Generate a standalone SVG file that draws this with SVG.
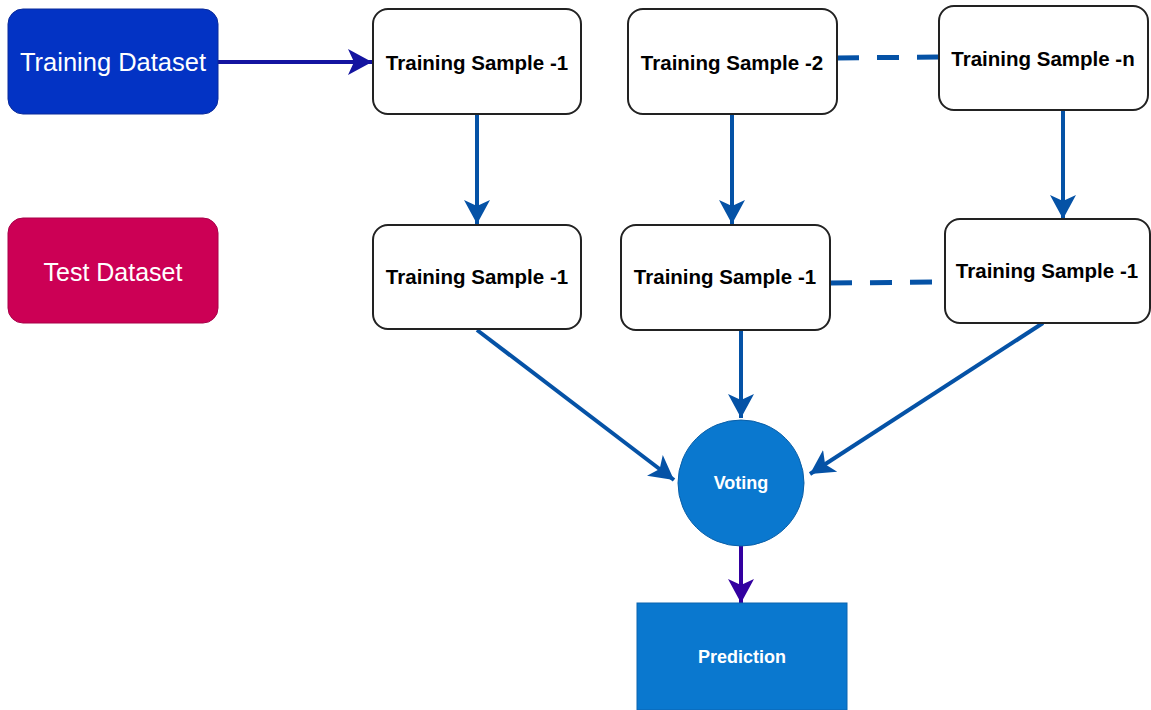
<svg xmlns="http://www.w3.org/2000/svg" width="1151" height="710" viewBox="0 0 1151 710">
<style>
.bg{fill:#ffffff}
.sample{fill:#ffffff;stroke:#222222;stroke-width:2}
.lbl{font-family:"Liberation Sans",Arial,sans-serif;font-weight:bold;font-size:20.5px;fill:#000000;text-anchor:middle}
.big{font-family:"Liberation Sans",Arial,sans-serif;font-size:25.5px;fill:#ffffff;text-anchor:middle}
.wl{font-family:"Liberation Sans",Arial,sans-serif;font-weight:bold;font-size:18px;fill:#ffffff;text-anchor:middle}
.conn{fill:none;stroke:#0552A6;stroke-width:4}
.dash{fill:none;stroke:#0552A6;stroke-width:5;stroke-dasharray:22 18}
</style>
<defs>
<marker id="ah" markerUnits="userSpaceOnUse" markerWidth="26" markerHeight="28" viewBox="0 0 26 28" refX="24" refY="14" orient="auto">
<path d="M0,1 L24,14 L0,27 L6,14 Z" fill="#0552A6"/>
</marker>
<marker id="ahNavy" markerUnits="userSpaceOnUse" markerWidth="26" markerHeight="28" viewBox="0 0 26 28" refX="24" refY="14" orient="auto">
<path d="M0,1 L24,14 L0,27 L6,14 Z" fill="#1414A0"/>
</marker>
<marker id="ahPurple" markerUnits="userSpaceOnUse" markerWidth="26" markerHeight="28" viewBox="0 0 26 28" refX="24" refY="14" orient="auto">
<path d="M0,1 L24,14 L0,27 L6,14 Z" fill="#3300A0"/>
</marker>
</defs>
<rect class="bg" x="0" y="0" width="1151" height="710"/>
<g id="connectors">
<path d="M218,62 L372,62" fill="none" stroke="#1414A0" stroke-width="4" marker-end="url(#ahNavy)"/>
<path class="dash" d="M837,58 L939,57"/>
<path class="dash" d="M830,283 L945,282"/>
<path class="conn" d="M477,114 L477,224" marker-end="url(#ah)"/>
<path class="conn" d="M732,114 L732,224" marker-end="url(#ah)"/>
<path class="conn" d="M1063,110 L1063,219" marker-end="url(#ah)"/>
<path class="conn" d="M477,330 L674,480" marker-end="url(#ah)"/>
<path class="conn" d="M741,330 L741,418" marker-end="url(#ah)"/>
<path class="conn" d="M1043,323 L810,474" marker-end="url(#ah)"/>
<path d="M741,546 L741,603" fill="none" stroke="#3300A0" stroke-width="4" marker-end="url(#ahPurple)"/>
</g>
<g id="training-dataset">
<rect x="8" y="9" width="210" height="105" rx="15" fill="#0333C4" stroke="#0A2A9A" stroke-width="1"/>
<text class="big" x="113" y="71">Training Dataset</text>
</g>
<g id="test-dataset">
<rect x="8" y="218" width="210" height="105" rx="15" fill="#CC0055" stroke="#A80048" stroke-width="1"/>
<text class="big" x="113" y="281" style="font-size:25px">Test Dataset</text>
</g>
<g id="ts1-top">
<rect class="sample" x="373" y="9" width="208" height="105" rx="15"/>
<text class="lbl" x="477" y="70">Training Sample -1</text>
</g>
<g id="ts2-top">
<rect class="sample" x="628" y="9" width="209" height="105" rx="15"/>
<text class="lbl" x="732" y="70">Training Sample -2</text>
</g>
<g id="tsn-top">
<rect class="sample" x="939" y="6" width="209" height="104" rx="15"/>
<text class="lbl" x="1043" y="66">Training Sample -n</text>
</g>
<g id="ts1-row2-left">
<rect class="sample" x="373" y="225" width="208" height="104" rx="15"/>
<text class="lbl" x="477" y="284">Training Sample -1</text>
</g>
<g id="ts1-row2-mid">
<rect class="sample" x="621" y="225" width="209" height="105" rx="15"/>
<text class="lbl" x="725" y="284">Training Sample -1</text>
</g>
<g id="ts1-row2-right">
<rect class="sample" x="945" y="219" width="205" height="104" rx="15"/>
<text class="lbl" x="1047" y="278">Training Sample -1</text>
</g>
<g id="voting">
<circle cx="741" cy="483" r="63" fill="#0A78CF" stroke="#0A5FA8" stroke-width="1"/>
<text class="wl" x="741" y="489">Voting</text>
</g>
<g id="prediction">
<rect x="637" y="603" width="210" height="107" fill="#0A78CF" stroke="#0A64B0" stroke-width="1"/>
<text class="wl" x="742" y="663">Prediction</text>
</g>
</svg>
